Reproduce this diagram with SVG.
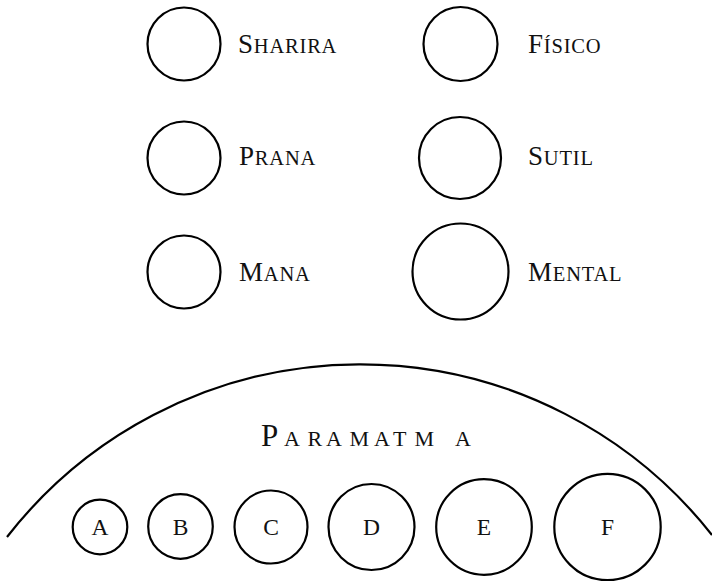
<svg xmlns="http://www.w3.org/2000/svg" width="712" height="581" viewBox="0 0 712 581">
<style>
.c{fill:none;stroke:#000;stroke-width:2.2}
.lbl{font-family:"Liberation Serif","Times New Roman",serif;fill:#111;letter-spacing:0.8px}
.big{font-size:27px}
.sm{font-size:20.5px}
.in{font-family:"Liberation Serif","Times New Roman",serif;fill:#111;font-size:23.5px;text-anchor:middle}
.pm{font-family:"Liberation Serif","Times New Roman",serif;fill:#111}
.pb{font-size:31px}
.ps{font-size:22px}
</style>
<rect width="712" height="581" fill="#fff"/>
<g id="sharira"><circle class="c" cx="184" cy="44" r="36.5"/><text class="lbl" x="238" y="53"><tspan class="big">S</tspan><tspan class="sm">HARIRA</tspan></text></g>
<g id="fisico"><circle class="c" cx="460.5" cy="44" r="37"/><text class="lbl" x="528" y="53"><tspan class="big">F</tspan><tspan class="sm">ÍSICO</tspan></text></g>
<g id="prana"><circle class="c" cx="184" cy="158" r="36.5"/><text class="lbl" x="239" y="165"><tspan class="big">P</tspan><tspan class="sm">RANA</tspan></text></g>
<g id="sutil"><circle class="c" cx="460" cy="158" r="41"/><text class="lbl" x="528" y="165"><tspan class="big">S</tspan><tspan class="sm">UTIL</tspan></text></g>
<g id="mana"><circle class="c" cx="184" cy="272" r="36.5"/><text class="lbl" x="239" y="281"><tspan class="big">M</tspan><tspan class="sm">ANA</tspan></text></g>
<g id="mental"><circle class="c" cx="460.5" cy="271.5" r="48"/><text class="lbl" x="528" y="281"><tspan class="big">M</tspan><tspan class="sm">ENTAL</tspan></text></g>
<g id="paramatma">
<path class="c" d="M 7 537 A 447.7 447.7 0 0 1 712 535"/>
<text class="pm" y="446"><tspan x="261" class="pb">P</tspan><tspan x="284" class="ps">A</tspan><tspan x="307.5" class="ps">R</tspan><tspan x="326" class="ps">A</tspan><tspan x="349.5" class="ps">M</tspan><tspan x="374" class="ps">A</tspan><tspan x="393" class="ps">T</tspan><tspan x="414.5" class="ps">M</tspan><tspan x="455" class="ps">A</tspan></text>
</g>
<g id="a"><circle class="c" cx="100" cy="527" r="27.3"/><text class="in" x="100" y="535">A</text></g>
<g id="b"><circle class="c" cx="180.5" cy="526.5" r="32.3"/><text class="in" x="180.5" y="535">B</text></g>
<g id="c"><circle class="c" cx="271" cy="527" r="36.5"/><text class="in" x="271" y="535">C</text></g>
<g id="d"><circle class="c" cx="371.5" cy="527" r="43"/><text class="in" x="371.5" y="535">D</text></g>
<g id="e"><circle class="c" cx="484" cy="527" r="47.8"/><text class="in" x="484" y="535">E</text></g>
<g id="f"><circle class="c" cx="607.5" cy="527" r="53.2"/><text class="in" x="607.5" y="535">F</text></g>
<g id="connectors"></g>
</svg>
